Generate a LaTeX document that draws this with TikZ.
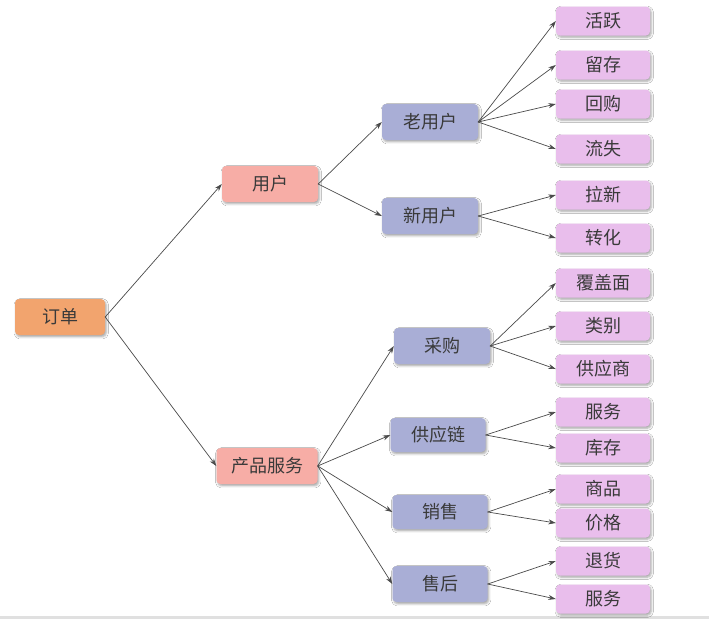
\documentclass[tikz,border=0pt]{standalone}
\usepackage{fontspec}
\setmainfont{Noto Sans CJK SC}
\usepackage{tikz}
\usetikzlibrary{arrows.meta, shadows.blur}
\definecolor{cOrder}{HTML}{F2A46E}
\definecolor{cPink}{HTML}{F7ADA6}
\definecolor{cBlue}{HTML}{A9AED6}
\definecolor{cLeaf}{HTML}{E9BEEC}
\definecolor{cText}{HTML}{3A3A3A}
\definecolor{cLine}{HTML}{4A4A4A}

\begin{document}
\begin{tikzpicture}[x=1pt, y=-1pt, line cap=round, line join=round,
  font=\fontsize{18}{21}\selectfont,
  box/.style={rounded corners=4pt, text=cText, inner sep=0pt,
    minimum width=96pt, minimum height=36pt,
    blur shadow={shadow xshift=1.2pt, shadow yshift=-1.8pt, shadow blur steps=4, shadow opacity=35}},
  leaf/.style={box, fill=cLeaf, minimum width=94pt, minimum height=29pt},
  arr/.style={cLine, line width=0.7pt, -{Stealth[length=7.5pt, width=5pt]}}]

% --- Sfondo e barra in basso ---
\useasboundingbox (0,0) rectangle (709,619);
\fill[white] (0,0) rectangle (709,619);
\fill[black!12] (0,616) rectangle (709,619);

% --- Radice ---
\node[box, fill=cOrder, minimum width=90pt] (order) at (60,317) {订单};

% --- Primo livello ---
\node[box, fill=cPink] (user) at (270,184) {用户};
\node[box, fill=cPink, minimum width=101pt] (product) at (267,466) {产品服务};

% --- Secondo livello ---
\node[box, fill=cBlue] (olduser) at (430,122) {老用户};
\node[box, fill=cBlue] (newuser) at (430,216) {新用户};
\node[box, fill=cBlue] (purchase) at (442,346) {采购};
\node[box, fill=cBlue, minimum width=95pt, minimum height=34pt] (supply) at (438,435) {供应链};
\node[box, fill=cBlue, minimum width=95pt, minimum height=34pt] (sales) at (440,512) {销售};
\node[box, fill=cBlue, minimum width=95pt] (after) at (440,584) {售后};

% --- Foglie ---
\node[leaf] (active) at (603,21) {活跃};
\node[leaf] (retain) at (603,65) {留存};
\node[leaf] (rebuy) at (603,104) {回购};
\node[leaf] (churn) at (603,149) {流失};
\node[leaf] (acquire) at (603,195) {拉新};
\node[leaf] (convert) at (603,238) {转化};
\node[leaf] (coverage) at (603,283) {覆盖面};
\node[leaf] (category) at (603,326) {类别};
\node[leaf] (supplier) at (603,369) {供应商};
\node[leaf] (serviceA) at (603,412) {服务};
\node[leaf] (stock) at (603,448) {库存};
\node[leaf] (goods) at (603,489) {商品};
\node[leaf] (price) at (603,523) {价格};
\node[leaf] (refund) at (603,561) {退货};
\node[leaf] (serviceB) at (603,599) {服务};

% --- Collegamenti ---
\foreach \a/\b in {order/user, order/product,
    user/olduser, user/newuser,
    product/purchase, product/supply, product/sales, product/after,
    olduser/active, olduser/retain, olduser/rebuy, olduser/churn,
    newuser/acquire, newuser/convert,
    purchase/coverage, purchase/category, purchase/supplier,
    supply/serviceA, supply/stock,
    sales/goods, sales/price,
    after/refund, after/serviceB}
  \draw[arr] (\a.east) -- (\b.west);
\end{tikzpicture}
\end{document}
